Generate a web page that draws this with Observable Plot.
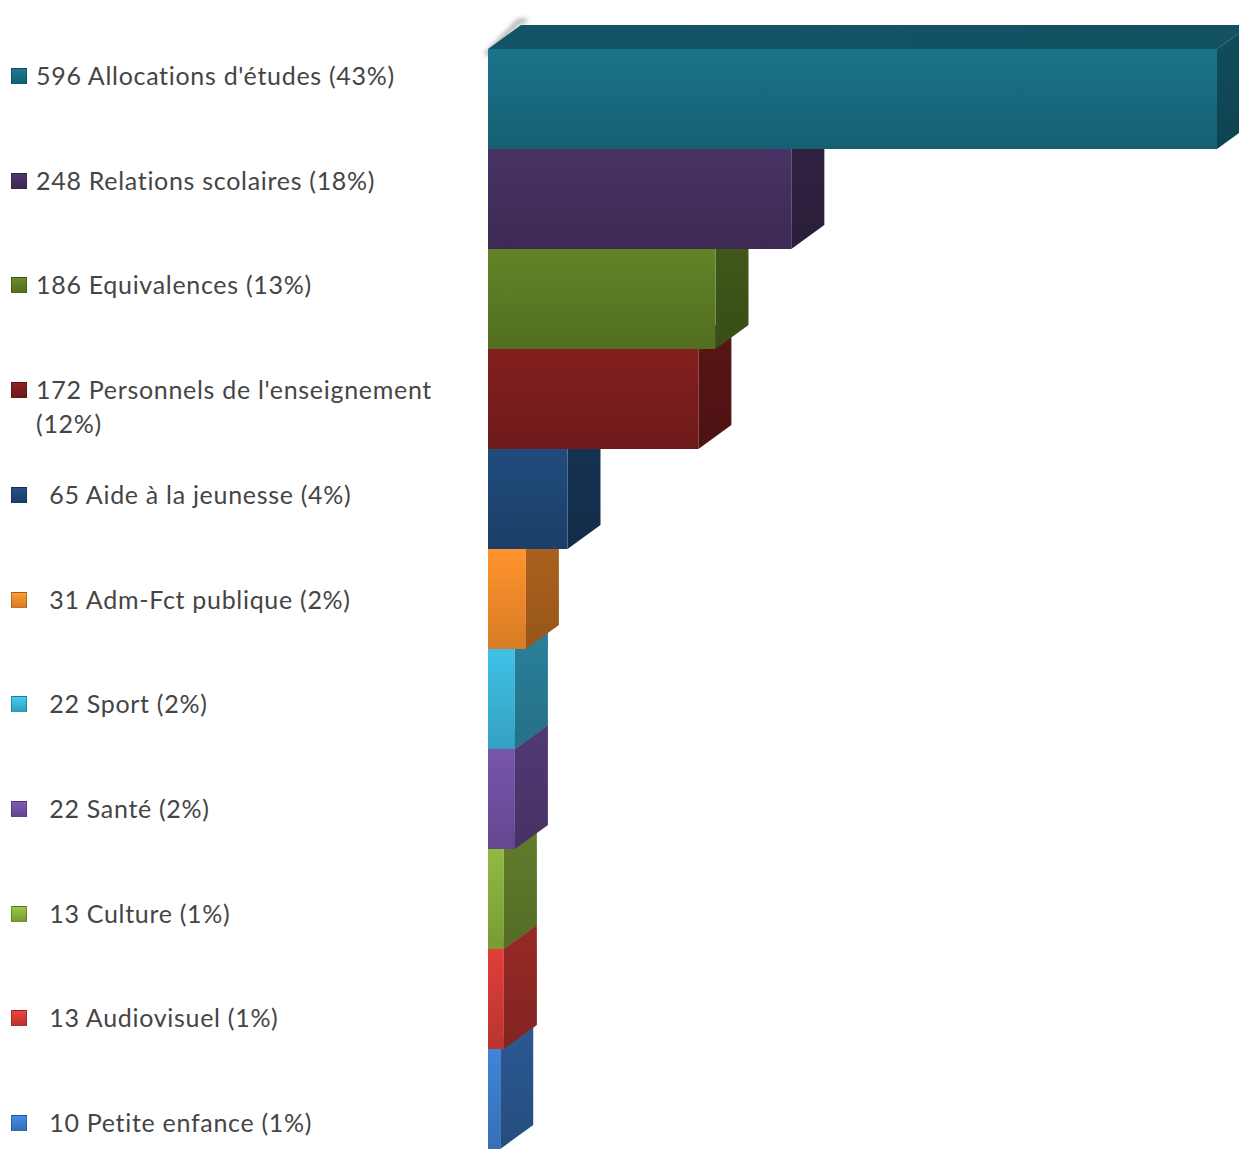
<!DOCTYPE html>
<html>
<head>
<meta charset="utf-8">
<script src="https://cdn.jsdelivr.net/npm/d3@7"></script>
<script src="https://cdn.jsdelivr.net/npm/@observablehq/plot@0.6"></script>
<style>
  body { margin: 0; background: #fff; }
  #wrap { position: relative; width: 1239px; height: 1153px; overflow: hidden; }
  #chart { position: absolute; left: 0; top: 0; }
  #legend { position: absolute; left: 0; top: 0; width: 480px; height: 1153px;
            font-family: Lato, "Open Sans", sans-serif; font-size: 25px; letter-spacing: 0.7px; color: #454545; }
  .item { position: absolute; left: 11px; display: flex; align-items: flex-start; }
  .sw { width: 16px; height: 16px; margin-top: 10px; flex: none; box-sizing: border-box;
        border: 1px solid rgba(0,0,0,0.25); }
  .lbl { margin-left: 9px; max-width: 430px; line-height: 34px; white-space: normal; }
</style>
</head>
<body>
<div id="wrap"><div id="chart"></div><div id="legend"></div></div>
<script>
const categories = ["Allocations d'études", "Relations scolaires", "Equivalences",
  "Personnels de l'enseignement", "Aide à la jeunesse", "Adm-Fct publique", "Sport",
  "Santé", "Culture", "Audiovisuel", "Petite enfance"];
const values = [596, 248, 186, 172, 65, 31, 22, 22, 13, 13, 10];
const percents = [43, 18, 13, 12, 4, 2, 2, 2, 1, 1, 1];
const colors = ["#186a80", "#432f5d", "#5b7a24", "#7a1d1d", "#1e4674", "#f0892a",
  "#3ab2d6", "#6f4f9f", "#86ac3c", "#cf3a35", "#3b7bca"];

const data = categories.map((c, i) => ({category: c, value: values[i], idx: i}));

// 3D depth of the bars (pixels)
const depthX = 33, depthY = -24;

const plot = Plot.plot({
  width: 1239, height: 1153,
  marginLeft: 488, marginRight: 22, marginTop: 47, marginBottom: 3,
  x: {domain: [0, 596], axis: null},
  y: {domain: categories, axis: null, padding: 0},
  color: {type: "identity"},
  marks: [
    Plot.barX(data, {x: "value", y: "category", fill: d => `url(#front-${d.idx})`, inset: 0})
  ]
});
document.getElementById("chart").appendChild(plot);

const svg = d3.select(plot);
const defs = svg.insert("defs", ":first-child");
colors.forEach((c, i) => {
  const col = d3.color(c);
  const gf = defs.append("linearGradient").attr("id", `front-${i}`)
    .attr("x1", 0).attr("y1", 0).attr("x2", 0).attr("y2", 1);
  gf.append("stop").attr("offset", "0%").attr("stop-color", col.brighter(0.22).formatHex());
  gf.append("stop").attr("offset", "100%").attr("stop-color", col.darker(0.3).formatHex());
  const gs = defs.append("linearGradient").attr("id", `side-${i}`)
    .attr("x1", 0).attr("y1", 0).attr("x2", 0).attr("y2", 1);
  gs.append("stop").attr("offset", "0%").attr("stop-color", col.darker(0.9).formatHex());
  gs.append("stop").attr("offset", "100%").attr("stop-color", col.darker(1.3).formatHex());
  const gt = defs.append("linearGradient").attr("id", `top-${i}`)
    .attr("x1", 0).attr("y1", 0).attr("x2", 1).attr("y2", 0);
  gt.append("stop").attr("offset", "0%").attr("stop-color", col.darker(0.65).formatHex());
  gt.append("stop").attr("offset", "100%").attr("stop-color", col.darker(0.75).formatHex());
});

// soft shadow filter for the top-left edge
const f = defs.append("filter").attr("id", "blur").attr("x", "-50%").attr("y", "-50%")
  .attr("width", "200%").attr("height", "200%");
f.append("feGaussianBlur").attr("stdDeviation", 2.5);

// side and top faces through the plot's scales
const xs = plot.scale("x"), ys = plot.scale("y");
const bw = ys.bandwidth;
const x0 = xs.apply(0);
const barGroup = plot.querySelector('g[aria-label="bar"]');
const g3d = svg.insert("g", () => barGroup).attr("aria-label", "3d faces");

const yTop0 = ys.apply(categories[0]);
g3d.append("path")
  .attr("d", `M${x0 - 2},${yTop0 + 6} L${x0 + depthX - 2},${yTop0 + depthY - 4} L${x0 + depthX + 6},${yTop0 + depthY - 4}`)
  .attr("fill", "none").attr("stroke", "#a0a0a0").attr("stroke-width", 4).attr("filter", "url(#blur)");

for (let i = data.length - 1; i >= 0; --i) {
  const d = data[i];
  const x1 = xs.apply(d.value);
  const yt = ys.apply(d.category), yb = yt + bw;
  g3d.append("path")
    .attr("d", `M${x0},${yt} L${x0 + depthX},${yt + depthY} L${x1 + depthX},${yt + depthY} L${x1},${yt} Z`)
    .attr("fill", `url(#top-${i})`);
  g3d.append("path")
    .attr("d", `M${x1},${yt} L${x1 + depthX},${yt + depthY} L${x1 + depthX},${yb + depthY} L${x1},${yb} Z`)
    .attr("fill", `url(#side-${i})`);
}

// legend
const legendY = d3.scalePoint().domain(categories).range([76, 1123]);
const legend = d3.select("#legend");
data.forEach((d, i) => {
  const num = d.value < 100 ? "\u2002" + d.value : String(d.value);
  const item = legend.append("div").attr("class", "item")
    .style("top", (legendY(d.category) - 18) + "px");
  const col = d3.color(colors[i]);
  item.append("div").attr("class", "sw")
    .style("background", `linear-gradient(${col.brighter(0.4).formatHex()}, ${col.darker(0.3).formatHex()})`);
  item.append("div").attr("class", "lbl").text(`${num} ${d.category} (${percents[i]}%)`);
});
</script>
</body>
</html>
